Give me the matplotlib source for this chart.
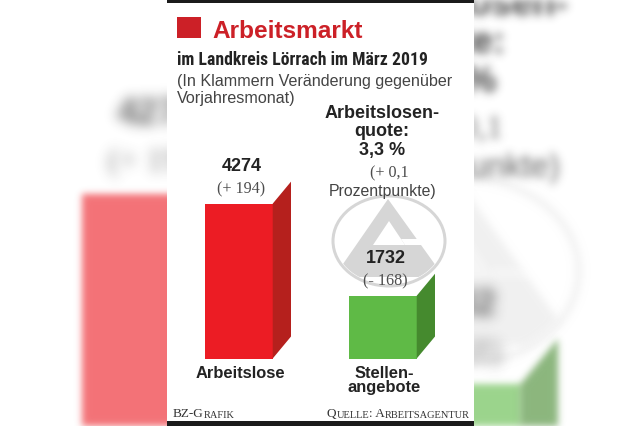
import numpy as np
import matplotlib
matplotlib.use("Agg")
import matplotlib.pyplot as plt
from matplotlib.patches import Rectangle, Polygon, Ellipse
from matplotlib.text import Text
from matplotlib import font_manager

# ---------------- data ----------------
categories = ["Arbeitslose", "Stellen-\nangebote"]
values = [4274, 1732]
value_labels = ["4274", "1732"]
change_labels = ["(+ 194)", "(- 168)"]
quote_title = ["Arbeitslosen-", "quote:", "3,3 %"]
quote_change = ["(+ 0,1", "Prozentpunkte)"]
title = "Arbeitsmarkt"
subtitle = "im Landkreis Lörrach im März 2019"
note = ["(In Klammern Veränderung gegenüber", "Vorjahresmonat)"]
credit = "BZ-Grafik"
source = "Quelle: Arbeitsagentur"
front_colors = ["#ec1c24", "#5fba46"]
side_colors = ["#b5201d", "#458a2e"]

# ---------------- fonts ----------------
def have(name):
    try:
        font_manager.findfont(font_manager.FontProperties(family=name),
                              fallback_to_default=False)
        return True
    except Exception:
        return False

SANS = "Liberation Sans"
SERIF = "Liberation Serif"
CONDENSED = None
for cand, size in [("Roboto Condensed", 12.7), ("Liberation Sans Narrow", 12.9),
                   ("Open Sans Condensed", 12.5)]:
    if have(cand):
        CONDENSED = (cand, size)
        break
plt.rcParams["font.family"] = [SANS, "DejaVu Sans"]

W, H, DPI = 640, 427, 100
PT = 72.0 / DPI  # points per pixel

RED_TITLE = "#cc2027"
DARK = "#232323"
MID = "#444444"
SERIF_COL = "#4d4d4d"
LOGO = "#d6d6d6"

# layout (reference pixel coordinates, y downward)
BAR_LEFT, BAR_RIGHT, BAR_TOP, BASE_Y = 167, 474, 40, 359.5
X0_PX, STEP_PX, BAR_W_PX = 239, 144, 68
VAL_PER_PX = 27.6
DEPTH_X, DEPTH_Y = 18, 22

fig = plt.figure(figsize=(W / DPI, H / DPI), dpi=DPI, facecolor="white")


def overlay(z):
    ax = fig.add_axes([0, 0, 1, 1])
    ax.set_xlim(0, W)
    ax.set_ylim(H, 0)
    ax.axis("off")
    ax.set_zorder(z)
    ax.patch.set_visible(False)
    return ax


def blur_fade(sigma, fade):
    r = int(3 * sigma) + 1
    xs = np.arange(-r, r + 1)
    k = np.exp(-0.5 * (xs / sigma) ** 2)
    k /= k.sum()

    def filt(im, dpi):
        a = np.pad(im, ((r, r), (r, r), (0, 0))).astype(float)
        pm = a.copy()
        pm[..., :3] *= pm[..., 3:4]
        tmp = np.zeros_like(pm)
        for i, w in enumerate(k):
            tmp += w * np.roll(pm, i - r, axis=0)
        out = np.zeros_like(tmp)
        for i, w in enumerate(k):
            out += w * np.roll(tmp, i - r, axis=1)
        alpha = out[..., 3:4]
        rgb = out[..., :3] / np.maximum(alpha, 1e-6)
        res = np.concatenate([np.clip(rgb, 0, 1), np.clip(alpha * fade, 0, 1)], axis=-1)
        return res, -r, -r
    return filt


def draw_layer(s, cx, cy, ax_under, bars_z, ax_text, filt=None, text_filt=None,
               logo_filt=None):
    def P(x, y):
        return cx + s * (x - cx), cy + s * (y - cy)

    arts = []
    logo_arts = []

    def T(ax, x, y, txt, size, **kw):
        X, Y = P(x, y)
        kw.setdefault("va", "baseline")
        t = ax.text(X, Y, txt, fontsize=size * s, **kw)
        arts.append(t)
        return t

    # ---- watermark logo ----
    ecx, ecy = P(389, 242)
    ring = Ellipse((ecx, ecy), 112 * s, 90 * s, fill=False, ec=LOGO,
                   lw=3.0 * PT * s)
    ax_under.add_patch(ring)
    logo_arts.append(ring)
    clip = Ellipse((ecx, ecy), 108 * s, 86 * s, transform=ax_under.transData)
    tri = Polygon([P(388, 200), P(334, 278), P(444, 278)], closed=True,
                  fc=LOGO, ec="none")
    ax_under.add_patch(tri)
    tri.set_clip_path(clip)
    logo_arts.append(tri)
    hole = Polygon([P(389, 222), P(373, 246), P(405, 246)], closed=True,
                   fc="white", ec="none")
    ax_under.add_patch(hole)
    logo_arts.append(hole)
    gap = Polygon([P(401, 240), P(446, 240), P(446, 246), P(405, 246)],
                  closed=True, fc="white", ec="none")
    ax_under.add_patch(gap)
    gap.set_clip_path(clip)
    logo_arts.append(gap)

    # ---- header ----
    sx, sy = P(177, 18)
    sq = Rectangle((sx, sy), 24 * s, 21 * s, fc=RED_TITLE, ec="none")
    ax_text.add_patch(sq)
    arts.append(sq)
    T(ax_text, 212, 38, title, 17.6, color=RED_TITLE, fontweight="bold")
    if CONDENSED:
        T(ax_text, 177, 65, subtitle, CONDENSED[1], color=DARK, fontweight="bold",
          family=[CONDENSED[0], "DejaVu Sans"])
    else:
        T(ax_text, 177, 65, subtitle, 10.7, color=DARK, fontweight="bold")
    for i, line in enumerate(note):
        T(ax_text, 177, 86 + 16.5 * i, line, 11.6, color=MID)

    # ---- quote block ----
    for line, yb in zip(quote_title, [118, 136, 155]):
        T(ax_text, 382, yb, line, 13, color=DARK, fontweight="bold", ha="center")
    T(ax_text, 389, 177, quote_change[0], 11.6, color=SERIF_COL, ha="center",
      family=[SERIF, "DejaVu Serif"])
    T(ax_text, 382.5, 196, quote_change[1], 11.4, color=MID, ha="center")

    # ---- bars ----
    L, B = P(BAR_LEFT, BASE_Y)
    R, Tt = P(BAR_RIGHT, BAR_TOP)
    bax = fig.add_axes([L / W, 1 - B / H, (R - L) / W, (B - Tt) / H])
    bax.set_zorder(bars_z)
    bax.axis("off")
    bax.patch.set_visible(False)
    x = np.arange(len(values))
    bax.set_xlim((BAR_LEFT - X0_PX) / STEP_PX, (BAR_RIGHT - X0_PX) / STEP_PX)
    bax.set_ylim(0, (BASE_Y - BAR_TOP) * VAL_PER_PX)
    bw = BAR_W_PX / STEP_PX
    bars = bax.bar(x, values, width=bw, color=front_colors, linewidth=0)
    dx = DEPTH_X / STEP_PX
    dy = DEPTH_Y * VAL_PER_PX
    for rect, sc in zip(bars, side_colors):
        xr = rect.get_x() + rect.get_width()
        h = rect.get_height()
        poly = Polygon([(xr - 0.002, 0), (xr - 0.002, h), (xr + dx, h + dy), (xr + dx, dy)],
                       closed=True, fc=sc, ec="none")
        bax.add_patch(poly)
        arts.append(poly)
        arts.append(rect)

    for xi, v, vl, cl, cat in zip(x, values, value_labels, change_labels, categories):
        a = bax.annotate(vl, xy=(xi, v), xytext=(2.5 * PT * s, 34 * PT * s),
                         textcoords="offset points", ha="center", va="baseline",
                         fontsize=13 * s, fontweight="bold", color=DARK,
                         annotation_clip=False)
        arts.append(a)
        a = bax.annotate(cl, xy=(xi, v), xytext=(2.5 * PT * s, 11.5 * PT * s),
                         textcoords="offset points", ha="center", va="baseline",
                         fontsize=11.6 * s, color=SERIF_COL,
                         family=[SERIF, "DejaVu Serif"], annotation_clip=False)
        arts.append(a)
        for j, line in enumerate(cat.split("\n")):
            a = bax.annotate(line, xy=(xi, 0),
                             xytext=(1.5 * PT * s, -(18.5 + 14 * j) * PT * s),
                             textcoords="offset points", ha="center", va="baseline",
                             fontsize=11.9 * s, fontweight="bold", color=DARK,
                             annotation_clip=False)
            arts.append(a)

    if filt is not None:
        for art in arts:
            f = text_filt if isinstance(art, Text) else filt
            art.set_agg_filter(f)
            art.set_rasterized(True)
        for art in logo_arts:
            art.set_agg_filter(logo_filt)
            art.set_rasterized(True)
    return arts


def small_caps(ax, x, y, s, big, small, ha, **kw):
    runs = []
    for ch in s:
        kind = ch.islower()
        if runs and runs[-1][0] == kind:
            runs[-1][1] += ch
        else:
            runs.append([kind, ch])
    pieces = [(r[1].upper(), small if r[0] else big) for r in runs]
    prev = None
    if ha == "left":
        for txt, size in pieces:
            if prev is None:
                prev = ax.text(x, y, txt, fontsize=size, ha="left", va="bottom", **kw)
            else:
                prev = ax.annotate(txt, xy=(1, 0), xycoords=prev, fontsize=size,
                                   ha="left", va="bottom", **kw)
    else:
        for txt, size in reversed(pieces):
            if prev is None:
                prev = ax.text(x, y, txt, fontsize=size, ha="right", va="bottom", **kw)
            else:
                prev = ax.annotate(txt, xy=(0, 0), xycoords=prev, fontsize=size,
                                   ha="right", va="bottom", **kw)


# ---------------- background (blurred enlarged copy) ----------------
bg = overlay(0)
draw_layer(2.07, 320, 214, bg, 1, bg, filt=blur_fade(3.5, 0.62),
           text_filt=blur_fade(4.5, 0.85), logo_filt=blur_fade(4.0, 0.35))

# ---------------- white panel ----------------
panel = overlay(2)
panel.add_patch(Rectangle((167, 0), 307, H, fc="white", ec="none"))
panel.add_patch(Rectangle((167, 0), 307, 3.5, fc="#1b1b1b", ec="none"))
panel.add_patch(Rectangle((167, 422), 307, 5, fc="#1b1b1b", ec="none"))

# ---------------- foreground ----------------
top = overlay(4)
draw_layer(1.0, 320, 214, panel, 3, top, filt=None)

fam = [SERIF, "DejaVu Serif"]
small_caps(top, 173, 420, credit, 9.5, 7.5, "left", color="#333333", family=fam)
small_caps(top, 470, 420, source, 9.5, 7.5, "right", color="#333333", family=fam)

fig.savefig("out.png", dpi=DPI, facecolor="white")
